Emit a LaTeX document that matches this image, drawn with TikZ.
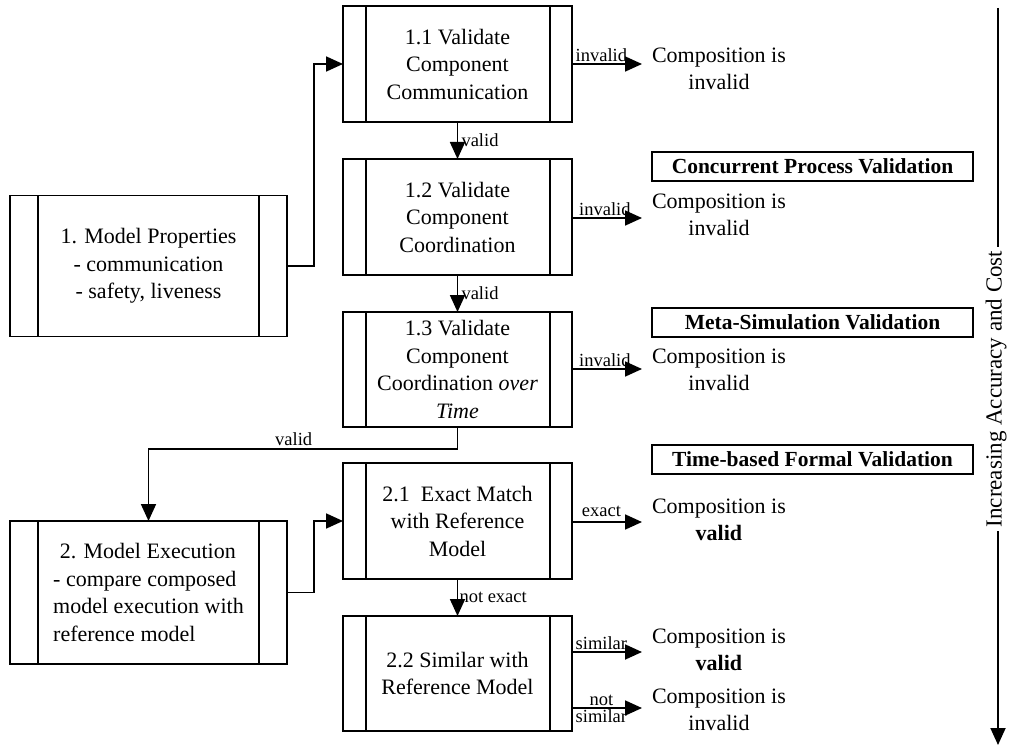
\documentclass[tikz,border=0pt]{standalone}
\usepackage{fontspec}
\setmainfont{Liberation Serif}
\usetikzlibrary{arrows.meta}
\begin{document}
\begin{tikzpicture}[x=1pt,y=-1pt,
  every node/.style={inner sep=0pt, outer sep=0pt},
  bigtext/.style={font=\fontsize{22}{27.5}\selectfont},
  lbl/.style={font=\fontsize{18.5}{19.5}\selectfont},
  proc/.style={draw, line width=1.8pt, rectangle, align=center, bigtext,
               minimum width=229, minimum height=116},
  bigproc/.style={proc, minimum width=277},
  result/.style={bigtext, align=center, anchor=west},
  phase/.style={draw, line width=1.5pt, rectangle, minimum width=321, minimum height=29,
                font=\fontsize{21.5}{24}\selectfont\bfseries},
  arr/.style={line width=1.8pt, -{Triangle[length=17pt,width=15pt]}},
  edge/.style={line width=1.8pt}
]
\useasboundingbox (0,0) rectangle (1009,746);

% process boxes
\node[bigproc, minimum height=141] (p1) at (148.5,266)
  {1. Model Properties\\- communication\\- safety, liveness};
\node[proc] (p11) at (457.5,64) {1.1 Validate\\Component\\Communication};
\node[proc] (p12) at (457.5,217) {1.2 Validate\\Component\\Coordination};
\node[proc, minimum height=115] (p13) at (457.5,369.5)
  {1.3 Validate\\Component\\Coordination \textit{over}\\\textit{Time}};
\node[bigproc, minimum height=143, align=left] (p2) at (148.5,592.5)
  {\hspace*{0.3em}2. Model Execution\\- compare composed\\model execution with\\reference model};
\node[proc] (p21) at (457.5,521) {2.1\ \ Exact Match\\with Reference\\Model};
\node[proc, minimum height=115] (p22) at (457.5,673.5) {2.2 Similar with\\Reference Model};

% side bars of the process boxes
\foreach \n in {p11,p12,p13,p21,p22} {
  \draw[edge] ([xshift=23pt]\n.north west) -- ([xshift=23pt]\n.south west);
  \draw[edge] ([xshift=-22pt]\n.north east) -- ([xshift=-22pt]\n.south east);
}
\foreach \n in {p1,p2} {
  \draw[edge] ([xshift=28pt]\n.north west) -- ([xshift=28pt]\n.south west);
  \draw[edge] ([xshift=-28pt]\n.north east) -- ([xshift=-28pt]\n.south east);
}

% phase headings
\node[phase] (h1) at (812.5,166.5) {Concurrent Process Validation};
\node[phase] (h2) at (812.5,322.5) {Meta-Simulation Validation};
\node[phase] (h3) at (812.5,459.5) {Time-based Formal Validation};

% outcomes
\coordinate (t11) at (642,64);
\coordinate (t12) at (642,218);
\coordinate (t13) at (642,369);
\coordinate (t21) at (642,522);
\coordinate (t22a) at (642,652);
\coordinate (t22b) at (642,708);
\node[result] (r11) at (652,69) {Composition is\\invalid};
\node[result] (r12) at (652,215) {Composition is\\invalid};
\node[result] (r13) at (652,370) {Composition is\\invalid};
\node[result] (r21) at (652,520) {Composition is\\\textbf{valid}};
\node[result] (r22a) at (652,650) {Composition is\\\textbf{valid}};
\node[result] (r22b) at (652,710) {Composition is\\invalid};

% flow
\draw[arr] (p1.east) -- ++(27,0) |- (p11.west);
\draw[arr] (p11.south) -- (p12.north) node[lbl, midway, right=4pt] {valid};
\draw[arr] (p12.south) -- (p13.north) node[lbl, midway, right=4pt] {valid};
\draw[arr] (p13.south) -- ++(0,22) -| (p2.north)
  node[lbl, pos=0.265, above=3pt] {valid};
\draw[arr] (p2.east) -- ++(27,0) |- (p21.west);
\draw[arr] (p21.south) -- (p22.north) node[lbl, midway, right=2pt] {not exact};

\draw[arr] (p11.east) -- (t11) node[lbl, pos=0.42, above=2pt] {invalid};
\draw[arr] (p12.east |- t12) -- (t12) node[lbl, pos=0.47, above=2pt] {invalid};
\draw[arr] (p13.east |- t13) -- (t13) node[lbl, pos=0.47, above=2pt] {invalid};
\draw[arr] (p21.east |- t21) -- (t21) node[lbl, pos=0.42, above=5pt] {exact};
\draw[arr] (p22.east |- t22a) -- (t22a) node[lbl, pos=0.42, above=2pt] {similar};
\draw[arr] (p22.east |- t22b) -- (t22b)
  node[lbl, pos=0.42, above=2pt] {not}
  node[lbl, pos=0.42, below=2pt] {similar};

% cost axis
\coordinate (ax1) at (998,8);
\coordinate (ax2) at (998,745);
\node[font=\fontsize{23}{27}\selectfont, rotate=90, inner xsep=4pt] (axl) at (996,389)
  {Increasing Accuracy and Cost};
\draw[edge] (ax1) -- (ax1 |- axl.east);
\draw[arr] (ax1 |- axl.west) -- (ax2);
\end{tikzpicture}
\end{document}
